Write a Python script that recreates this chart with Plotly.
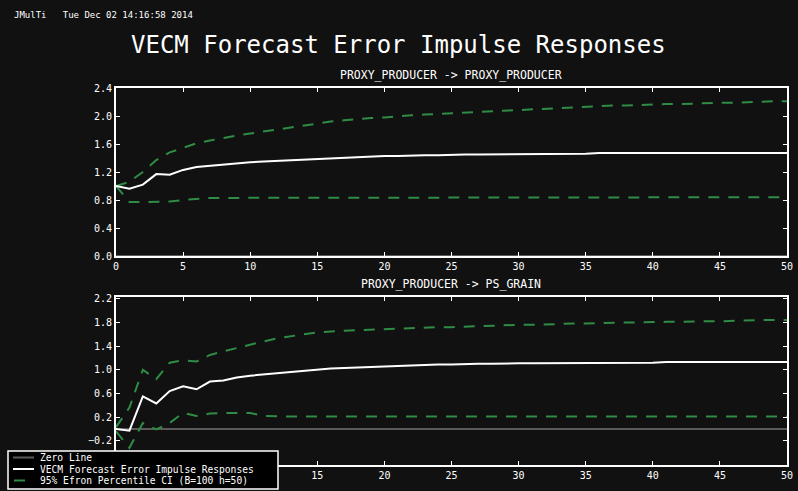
import plotly.graph_objects as go

W, H = 798, 491

horizon = list(range(0, 51))

# PROXY_PRODUCER -> PROXY_PRODUCER
resp_top = [1.00, 0.96, 1.02, 1.17, 1.16, 1.23, 1.27, 1.29, 1.31, 1.33,
            1.34, 1.35, 1.36, 1.37, 1.38, 1.39, 1.40, 1.41, 1.42, 1.42,
            1.43, 1.43, 1.44, 1.44, 1.44, 1.45, 1.45, 1.45, 1.45, 1.46,
            1.46, 1.46, 1.46, 1.46, 1.46, 1.46, 1.47, 1.47, 1.47, 1.47,
            1.47, 1.47, 1.47, 1.47, 1.47, 1.47, 1.47, 1.47, 1.47, 1.47, 1.47]
upper_top = [1.00, 1.06, 1.20, 1.37, 1.48, 1.55, 1.61, 1.65, 1.69, 1.72,
             1.75, 1.78, 1.81, 1.84, 1.87, 1.90, 1.92, 1.94, 1.96, 1.97,
             1.98, 2.00, 2.01, 2.02, 2.03, 2.04, 2.05, 2.06, 2.07, 2.08,
             2.09, 2.10, 2.11, 2.12, 2.12, 2.13, 2.14, 2.15, 2.15, 2.16,
             2.16, 2.17, 2.17, 2.18, 2.18, 2.19, 2.19, 2.20, 2.20, 2.21, 2.21]
lower_top = [1.00, 0.77, 0.77, 0.77, 0.78, 0.80, 0.82, 0.83, 0.83, 0.83,
             0.83, 0.83, 0.83, 0.83, 0.83, 0.83, 0.83, 0.83, 0.83, 0.83,
             0.83, 0.83, 0.83, 0.83, 0.83, 0.83, 0.83, 0.83, 0.83, 0.83,
             0.83, 0.83, 0.83, 0.83, 0.83, 0.83, 0.83, 0.83, 0.83, 0.83,
             0.84, 0.84, 0.84, 0.84, 0.84, 0.84, 0.84, 0.84, 0.84, 0.84, 0.84]

# PROXY_PRODUCER -> PS_GRAIN
resp_bot = [0.00, -0.03, 0.55, 0.43, 0.64, 0.72, 0.67, 0.80, 0.82, 0.87,
            0.90, 0.92, 0.95, 0.97, 0.99, 1.01, 1.02, 1.03, 1.04, 1.05,
            1.06, 1.07, 1.08, 1.08, 1.09, 1.09, 1.10, 1.10, 1.10, 1.11,
            1.11, 1.11, 1.11, 1.12, 1.12, 1.12, 1.12, 1.12, 1.12, 1.12,
            1.12, 1.13, 1.13, 1.13, 1.13, 1.13, 1.13, 1.13, 1.13, 1.13, 1.13]
upper_bot = [0.03, 0.36, 1.00, 0.84, 1.12, 1.16, 1.14, 1.25, 1.31, 1.37,
             1.43, 1.48, 1.53, 1.57, 1.60, 1.63, 1.65, 1.66, 1.67, 1.68,
             1.69, 1.70, 1.70, 1.71, 1.72, 1.72, 1.73, 1.74, 1.74, 1.75,
             1.76, 1.76, 1.77, 1.77, 1.78, 1.78, 1.79, 1.79, 1.80, 1.80,
             1.81, 1.81, 1.81, 1.82, 1.82, 1.82, 1.83, 1.83, 1.84, 1.84, 1.84]
lower_bot = [-0.04, -0.32, 0.10, -0.01, 0.10, 0.27, 0.22, 0.26, 0.27, 0.27,
             0.27, 0.22, 0.21, 0.21, 0.21, 0.21, 0.21, 0.21, 0.21, 0.21,
             0.21, 0.21, 0.21, 0.21, 0.21, 0.21, 0.21, 0.21, 0.21, 0.21,
             0.21, 0.21, 0.21, 0.21, 0.21, 0.21, 0.21, 0.21, 0.21, 0.21,
             0.21, 0.21, 0.21, 0.21, 0.21, 0.21, 0.21, 0.21, 0.21, 0.21, 0.21]

zero_line = [0.0] * len(horizon)

# tick labels
x_ticks = [0, 5, 10, 15, 20, 25, 30, 35, 40, 45, 50]
x_labels_top = [str(v) for v in x_ticks]
x_labels_bot = ["", "", ""] + [str(v) for v in x_ticks[3:]]   # 0, 5, 10 hidden by legend
y_ticks_top = [0.0, 0.4, 0.8, 1.2, 1.6, 2.0, 2.4]
y_ticks_bot = [-0.6, -0.2, 0.2, 0.6, 1.0, 1.4, 1.8, 2.2]
y_labels_bot = [""] + [f"{v:.1f}".replace("-", "−") for v in y_ticks_bot[1:]]

BG = "#111111"
GREEN = "#2f8c45"
GRAY = "#5a5a5a"
FONT = "DejaVu Sans Mono"

fig = go.Figure()

for xa, ya, resp, up, lo in [("x", "y", resp_top, upper_top, lower_top),
                             ("x2", "y2", resp_bot, upper_bot, lower_bot)]:
    fig.add_trace(go.Scatter(x=horizon, y=zero_line, xaxis=xa, yaxis=ya, mode="lines",
                             line=dict(color=GRAY, width=2), name="Zero Line",
                             showlegend=False, hoverinfo="skip"))
    fig.add_trace(go.Scatter(x=horizon, y=up, xaxis=xa, yaxis=ya, mode="lines",
                             line=dict(color=GREEN, width=2, dash="11px,9px"),
                             name="95% Efron Percentile CI (B=100 h=50)", showlegend=False))
    fig.add_trace(go.Scatter(x=horizon, y=lo, xaxis=xa, yaxis=ya, mode="lines",
                             line=dict(color=GREEN, width=2, dash="11px,9px"),
                             name="95% Efron Percentile CI (B=100 h=50)", showlegend=False))
    fig.add_trace(go.Scatter(x=horizon, y=resp, xaxis=xa, yaxis=ya, mode="lines",
                             line=dict(color="white", width=2),
                             name="VECM Forecast Error Impulse Responses", showlegend=False))

xdom = [116 / W, 787 / W]
axis_common = dict(showline=True, linecolor="white", linewidth=2, mirror="ticks",
                   ticks="inside", ticklen=4, tickcolor="white", tickwidth=1,
                   showgrid=False, zeroline=False, automargin=False,
                   tickfont=dict(family=FONT, size=10, color="white"))

fig.update_layout(
    width=W, height=H,
    margin=dict(l=0, r=0, t=0, b=0),
    paper_bgcolor=BG, plot_bgcolor=BG,
    showlegend=False,
    xaxis=dict(domain=xdom, range=[0, 50], tickmode="array", tickvals=x_ticks,
               ticktext=x_labels_top, anchor="y", **axis_common),
    yaxis=dict(domain=[(H - 256) / H, (H - 88) / H], range=[0, 2.4], tickmode="array",
               tickvals=y_ticks_top, ticktext=[f"{v:.1f}" for v in y_ticks_top],
               anchor="x", **axis_common),
    xaxis2=dict(domain=xdom, range=[0, 50], tickmode="array", tickvals=x_ticks,
                ticktext=x_labels_bot, anchor="y2", **axis_common),
    yaxis2=dict(domain=[(H - 465) / H, (H - 297) / H], range=[-0.61, 2.23], tickmode="array",
                tickvals=y_ticks_bot, ticktext=y_labels_bot, anchor="x2", **axis_common),
)

def px(x, y):
    return x / W, 1 - y / H

annotations = []
def text(x, y, s, size, xanchor="left", pad=1):
    ax, ay = px(x, y)
    annotations.append(dict(x=ax, y=ay, xref="paper", yref="paper", text=s,
                            showarrow=False, xanchor=xanchor, yanchor="middle",
                            borderpad=pad,
                            font=dict(family=FONT, size=size, color="white")))

text(12, 15, "JMulTi&nbsp;&nbsp;&nbsp;Tue Dec 02 14:16:58 2014", 9)
text(398, 45, "VECM Forecast Error Impulse Responses", 24, "center")
text(451, 75, "PROXY_PRODUCER -> PROXY_PRODUCER", 11.5, "center")
text(451, 284, "PROXY_PRODUCER -> PS_GRAIN", 11.5, "center")

# manual legend box
shapes = []
x0, y0 = px(8, 451)
x1, y1 = px(278, 489)
shapes.append(dict(type="rect", xref="paper", yref="paper", x0=x0, y0=y1, x1=x1, y1=y0,
                   fillcolor="black", line=dict(color="white", width=1.5), layer="above"))
legend_items = [("Zero Line", GRAY, 13, 34, 457.5),
                ("VECM Forecast Error Impulse Responses", "white", 13, 34, 469),
                ("95% Efron Percentile CI (B=100 h=50)", GREEN, 14, 25, 480.5)]
for label, color, lx0, lx1, yy in legend_items:
    a0, b0 = px(lx0, yy)
    a1, _ = px(lx1, yy)
    shapes.append(dict(type="line", xref="paper", yref="paper", x0=a0, y0=b0, x1=a1, y1=b0,
                       line=dict(color=color, width=2), layer="above"))
    text(39, yy, label, 9.6, pad=0)

fig.update_layout(annotations=annotations, shapes=shapes)

fig.write_html("out.html")
